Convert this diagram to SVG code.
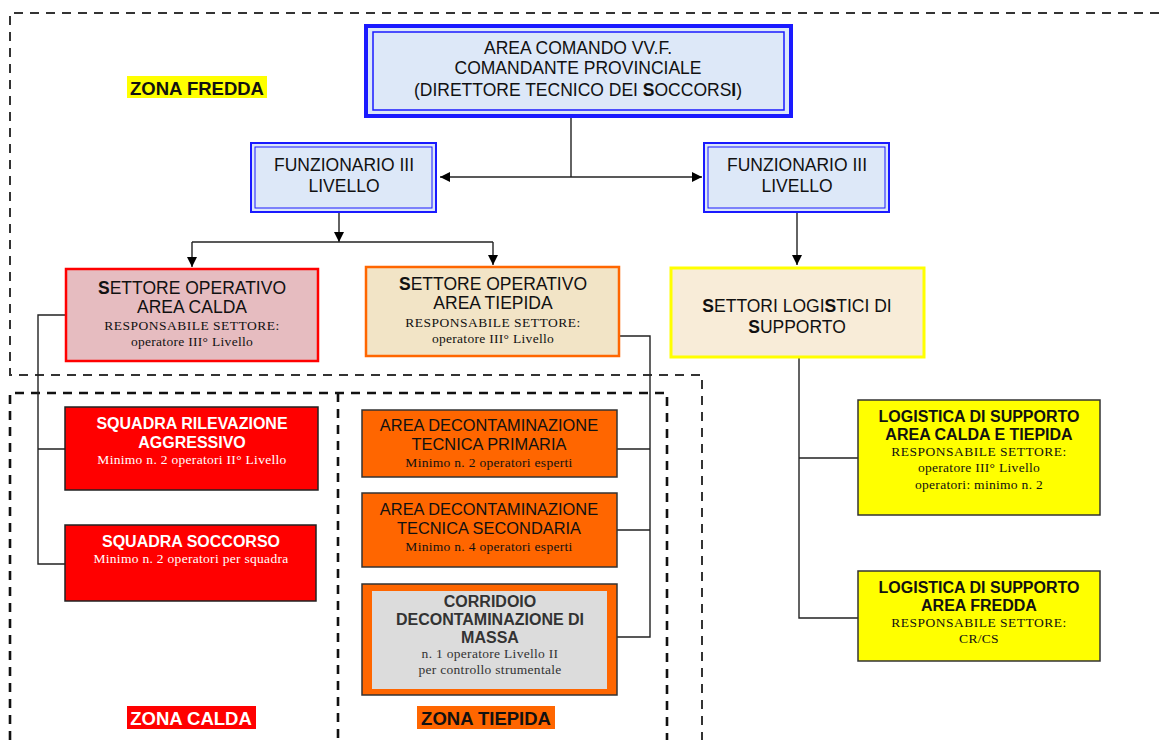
<svg xmlns="http://www.w3.org/2000/svg" width="1159" height="740" viewBox="0 0 1159 740">
<defs>
<marker id="arr" viewBox="0 0 10 10" refX="10" refY="5" markerWidth="10" markerHeight="10" markerUnits="userSpaceOnUse" orient="auto">
<path d="M0,0 L10,5 L0,10 z" fill="#000"/>
</marker>
</defs>
<style>
.zf{fill:none;stroke:#333;stroke-width:2;stroke-dasharray:9,7}
.zc{fill:none;stroke:#111;stroke-width:2.6;stroke-dasharray:9,7}
.con{fill:none;stroke:#222;stroke-width:1.4}
.t{font-family:"Liberation Sans",Arial,sans-serif;text-anchor:middle;fill:#111}
.s{font-family:"Liberation Serif","Times New Roman",serif;text-anchor:middle;fill:#111;font-size:13.5px;letter-spacing:0.3px}
.caps{letter-spacing:0.5px}
.b{font-weight:bold}
.blue{fill:#dde8f8;stroke:#1a1aff}
</style>
<rect width="1159" height="740" fill="#fff"/>

<g id="zones">
<path class="zf" d="M1159,13 L10,13 L10,375 L702,375 L702,740"/>
<path class="zc" d="M10,740 L10,393 L667,393 L667,740 M338,393 L338,740"/>
<rect x="127" y="76" width="140" height="22" fill="#ffff00"/>
<text class="t b" x="197" y="94.5" font-size="18.5">ZONA FREDDA</text>
<rect x="127" y="706" width="129" height="23" fill="#ff0000"/>
<text class="t b" x="191" y="724.5" font-size="18.5" style="fill:#fff">ZONA CALDA</text>
<rect x="417" y="706" width="138" height="23" fill="#ff6600"/>
<text class="t b" x="486" y="724.5" font-size="18.5">ZONA TIEPIDA</text>
</g>

<g id="connectors">
<path class="con" d="M571,117 L571,177"/>
<path class="con" d="M571,177 L440,177" marker-end="url(#arr)"/>
<path class="con" d="M571,177 L702,177" marker-end="url(#arr)"/>
<path class="con" d="M339,213 L339,242" marker-end="url(#arr)"/>
<path class="con" d="M192,242 L493,242"/>
<path class="con" d="M192,242 L192,267" marker-end="url(#arr)"/>
<path class="con" d="M493,242 L493,265" marker-end="url(#arr)"/>
<path class="con" d="M797,213 L797,265" marker-end="url(#arr)"/>
<path class="con" d="M65,315 L38,315 L38,564 L65,564 M38,449 L65,449"/>
<path class="con" d="M620,336 L650,336 L650,637 L617,637 M617,449 L650,449 M617,530 L650,530"/>
<path class="con" d="M799,358 L799,618 L858,618 M799,458 L858,458"/>
</g>

<g id="area-comando">
<rect x="366" y="26" width="425" height="90" class="blue" stroke-width="4"/>
<rect x="373" y="32" width="411" height="78" fill="none" stroke="#1a1aff" stroke-width="1.5"/>
<text class="t" x="578" y="54" font-size="17.5">AREA COMANDO VV.F.</text>
<text class="t" x="578" y="74" font-size="17.5">COMANDANTE PROVINCIALE</text>
<text class="t" x="578" y="96" font-size="17.5">(DIRETTORE TECNICO DEI <tspan class="b">S</tspan>OCCORS<tspan class="b">I</tspan>)</text>
</g>

<g id="funzionario-sx">
<rect x="251" y="143" width="185" height="69" class="blue" stroke-width="2"/>
<rect x="255" y="147" width="177" height="61" fill="none" stroke="#1a1aff" stroke-width="1"/>
<text class="t" x="344" y="171" font-size="17.5">FUNZIONARIO III</text>
<text class="t" x="344" y="192" font-size="17.5">LIVELLO</text>
</g>

<g id="funzionario-dx">
<rect x="704" y="143" width="185" height="69" class="blue" stroke-width="2"/>
<rect x="708" y="147" width="177" height="61" fill="none" stroke="#1a1aff" stroke-width="1"/>
<text class="t" x="797" y="171" font-size="17.5">FUNZIONARIO III</text>
<text class="t" x="797" y="192" font-size="17.5">LIVELLO</text>
</g>

<g id="settore-calda">
<rect x="66" y="269" width="252" height="92" fill="#e6bcc0" stroke="#ff0000" stroke-width="2.5"/>
<text class="t" x="192" y="294" font-size="17.5"><tspan class="b">S</tspan>ETTORE OPERATIVO</text>
<text class="t" x="192" y="313" font-size="17.5">AREA CALDA</text>
<text class="s caps" x="192" y="330">RESPONSABILE SETTORE:</text>
<text class="s" x="192" y="346">operatore III° Livello</text>
</g>

<g id="settore-tiepida">
<rect x="366" y="267" width="253" height="89" fill="#f2e4c6" stroke="#ff6600" stroke-width="2.5"/>
<text class="t" x="493" y="290" font-size="17.5"><tspan class="b">S</tspan>ETTORE OPERATIVO</text>
<text class="t" x="493" y="309" font-size="17.5">AREA TIEPIDA</text>
<text class="s caps" x="493" y="327">RESPONSABILE SETTORE:</text>
<text class="s" x="493" y="343">operatore III° Livello</text>
</g>

<g id="settori-logistici">
<rect x="671" y="268" width="253" height="89" fill="#f8ecd8" stroke="#ffff00" stroke-width="3"/>
<text class="t" x="797" y="312" font-size="17.5"><tspan class="b">S</tspan>ETTORI LOGI<tspan class="b">S</tspan>TICI DI</text>
<text class="t" x="797" y="333" font-size="17.5"><tspan class="b">S</tspan>UPPORTO</text>
</g>

<g id="squadra-rilevazione">
<rect x="65" y="407" width="253" height="83" fill="#ff0000" stroke="#222" stroke-width="1.5"/>
<text class="t b" x="192" y="429" font-size="16" style="fill:#fff">SQUADRA RILEVAZIONE</text>
<text class="t b" x="192" y="448" font-size="16" style="fill:#fff">AGGRESSIVO</text>
<text class="s" x="192" y="464" style="fill:#fff">Minimo n. 2 operatori II° Livello</text>
</g>

<g id="squadra-soccorso">
<rect x="65" y="525" width="251" height="76" fill="#ff0000" stroke="#222" stroke-width="1.5"/>
<text class="t b" x="191" y="547" font-size="16" style="fill:#fff">SQUADRA SOCCORSO</text>
<text class="s" x="191" y="563" style="fill:#fff">Minimo n. 2 operatori per squadra</text>
</g>

<g id="decont-primaria">
<rect x="362" y="410" width="255" height="67" fill="#ff6600" stroke="#333" stroke-width="1.5"/>
<text class="t" x="489" y="431" font-size="16.4">AREA DECONTAMINAZIONE</text>
<text class="t" x="489" y="450" font-size="16.4">TECNICA PRIMARIA</text>
<text class="s" x="489" y="467">Minimo n. 2 operatori esperti</text>
</g>

<g id="decont-secondaria">
<rect x="362" y="493" width="255" height="74" fill="#ff6600" stroke="#333" stroke-width="1.5"/>
<text class="t" x="489" y="515" font-size="16.4">AREA DECONTAMINAZIONE</text>
<text class="t" x="489" y="534" font-size="16.4">TECNICA SECONDARIA</text>
<text class="s" x="489" y="551">Minimo n. 4 operatori esperti</text>
</g>

<g id="corridoio">
<rect x="362" y="584" width="255" height="111" fill="#ff6600" stroke="#333" stroke-width="1.5"/>
<rect x="372" y="591" width="235" height="98" fill="#dcdcdc"/>
<text class="t b" x="490" y="607" font-size="16" style="fill:#333">CORRIDOIO</text>
<text class="t b" x="490" y="625" font-size="16" style="fill:#333">DECONTAMINAZIONE DI</text>
<text class="t b" x="490" y="643" font-size="16" style="fill:#333">MASSA</text>
<text class="s" x="490" y="658" style="fill:#333">n. 1 operatore Livello II</text>
<text class="s" x="490" y="674" style="fill:#333">per controllo strumentale</text>
</g>

<g id="logistica-calda-tiepida">
<rect x="858" y="400" width="242" height="115" fill="#ffff00" stroke="#333" stroke-width="1.5"/>
<text class="t b" x="979" y="422" font-size="16">LOGISTICA DI SUPPORTO</text>
<text class="t b" x="979" y="440" font-size="16">AREA CALDA E TIEPIDA</text>
<text class="s caps" x="979" y="456">RESPONSABILE SETTORE:</text>
<text class="s" x="979" y="472">operatore III° Livello</text>
<text class="s" x="979" y="489">operatori: minimo n. 2</text>
</g>

<g id="logistica-fredda">
<rect x="858" y="571" width="242" height="90" fill="#ffff00" stroke="#333" stroke-width="1.5"/>
<text class="t b" x="979" y="593" font-size="16">LOGISTICA DI SUPPORTO</text>
<text class="t b" x="979" y="611" font-size="16">AREA FREDDA</text>
<text class="s caps" x="979" y="627">RESPONSABILE SETTORE:</text>
<text class="s" x="979" y="643">CR/CS</text>
</g>
</svg>
